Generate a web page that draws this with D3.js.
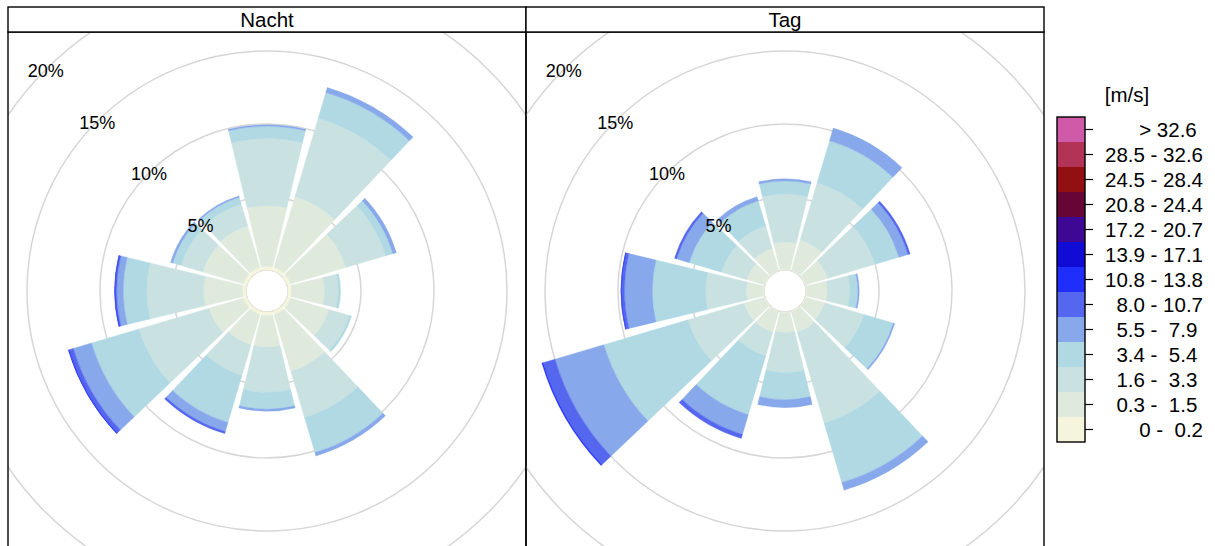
<!DOCTYPE html>
<html>
<head>
<meta charset="utf-8">
<script src="https://cdn.jsdelivr.net/npm/d3@7"></script>
<style>
  body { margin: 0; background: #fff; }
  text { font-family: "Liberation Sans", Arial, sans-serif; fill: #000; }
</style>
</head>
<body>
<svg id="chart" width="1215" height="546"></svg>
<script>
// Wind directions (degrees, clockwise from north), one wedge each
const directions = [0, 30, 60, 90, 120, 150, 180, 210, 240, 270, 300, 330];

// Wind speed classes [m/s] (Beaufort), lowest first
const speedLabels = [
  "      0 -  0.2", "  0.3 -  1.5", "  1.6 -  3.3", "  3.4 -  5.4", "  5.5 -  7.9",
  "  8.0 - 10.7", "10.8 - 13.8", "13.9 - 17.1", "17.2 - 20.7", "20.8 - 24.4",
  "24.5 - 28.4", "28.5 - 32.6", "      > 32.6"
];
const speedColours = [
  "#F5F4DC", "#DFEADD", "#C9E2E1", "#B1D9E3", "#87A8EA",
  "#5567EF", "#1F2EFA", "#110CD5", "#3E0894", "#680537",
  "#921012", "#B23356", "#CF5AA7"
];

const panelNames = ["Nacht", "Tag"];
const gridPercents = [0, 5, 10, 15, 20];
const ringLabelPercents = [5, 10, 15, 20];

// Frequency [%] per speed class (rows, lowest first) and direction (columns)
const nachtFreq = [
  [0.25, 0.25, 0.25, 0.25, 0.25, 0.25, 0.25, 0.25, 0.25, 0.25, 0.25, 0.25],
  [4.15, 5.05, 3.95, 2.25, 2.75, 4.05, 2.15, 2.15, 2.45, 2.65, 2.90, 2.95],
  [4.60, 5.60, 2.85, 0.95, 1.45, 3.30, 3.10, 2.20, 5.00, 3.90, 1.55, 1.55],
  [0.85, 1.85, 0.50, 0.15, 0.15, 2.50, 1.15, 3.35, 3.40, 1.60, 0.60, 0.50],
  [0.10, 0.35, 0.25, 0.00, 0.00, 0.25, 0.15, 0.65, 1.30, 0.45, 0.15, 0.10],
  [0.00, 0.00, 0.00, 0.00, 0.00, 0.00, 0.00, 0.15, 0.30, 0.12, 0.00, 0.00],
  [0.00, 0.00, 0.00, 0.00, 0.00, 0.00, 0.00, 0.00, 0.06, 0.03, 0.00, 0.00]
];
const tagFreq = [
  [0.05, 0.05, 0.05, 0.05, 0.05, 0.05, 0.05, 0.05, 0.05, 0.05, 0.05, 0.05],
  [1.85, 2.15, 1.55, 1.40, 1.35, 1.45, 1.35, 1.45, 1.45, 1.15, 1.25, 1.55],
  [3.30, 4.10, 3.40, 1.55, 2.80, 6.50, 2.75, 1.70, 4.00, 2.80, 1.80, 1.60],
  [0.90, 3.00, 1.70, 0.55, 2.10, 4.25, 1.85, 4.20, 6.00, 3.65, 2.30, 1.80],
  [0.15, 0.90, 0.65, 0.10, 0.10, 0.55, 0.55, 1.40, 3.50, 1.90, 0.90, 0.30],
  [0.00, 0.00, 0.15, 0.00, 0.00, 0.00, 0.00, 0.30, 0.85, 0.22, 0.15, 0.00],
  [0.00, 0.00, 0.00, 0.00, 0.00, 0.00, 0.00, 0.00, 0.08, 0.03, 0.00, 0.00]
];
const panelFreq = [nachtFreq, tagFreq];

const svg = d3.select("#chart");
const W = 1215, H = 546;

// layout
const panelLeft = 8, panelWidth = 518, stripTop = 7, stripHeight = 25;
const panelTop = stripTop + stripHeight;
const cy = panelTop + panelWidth / 2;
const segWidth = 0.9;                 // fraction of the sector covered by a wedge
const sector = 360 / directions.length;

// radial scale: percent -> pixel radius (hole in the middle)
const rScale = d3.scaleLinear().domain([0, 20]).range([21, 313]);
const toRad = d => d * Math.PI / 180;
const arc = d3.arc();

panelNames.forEach((name, i) => {
  const x0 = panelLeft + i * panelWidth;
  const cx = x0 + panelWidth / 2;
  const freq = panelFreq[i];

  const clipId = "clip" + i;
  svg.append("clipPath").attr("id", clipId)
    .append("rect").attr("x", x0).attr("y", panelTop)
    .attr("width", panelWidth).attr("height", H - panelTop + 10);

  const g = svg.append("g").attr("clip-path", `url(#${clipId})`);
  const plot = g.append("g").attr("transform", `translate(${cx},${cy})`);

  // grid rings
  plot.selectAll("circle.grid").data(gridPercents).join("circle")
    .attr("class", "grid")
    .attr("r", d => rScale(d))
    .attr("fill", "none")
    .attr("stroke", "#D6D6D6")
    .attr("stroke-width", 1.5);

  // stacked wedges
  directions.forEach((dir, j) => {
    let cum = 0;
    freq.forEach((row, k) => {
      const v = row[j];
      if (v <= 0) return;
      const path = arc({
        innerRadius: rScale(cum),
        outerRadius: rScale(cum + v),
        startAngle: toRad(dir - segWidth * sector / 2),
        endAngle: toRad(dir + segWidth * sector / 2)
      });
      plot.append("path")
        .attr("d", path)
        .attr("fill", speedColours[k])
        .attr("stroke", speedColours[k])
        .attr("stroke-width", 0.35);
      cum += v;
    });
  });

  // ring labels along the north-west diagonal
  plot.selectAll("text.ring").data(ringLabelPercents).join("text")
    .attr("class", "ring")
    .attr("x", d => -rScale(d) * Math.SQRT1_2)
    .attr("y", d => -rScale(d) * Math.SQRT1_2 + 1.5)
    .attr("text-anchor", "middle")
    .attr("dominant-baseline", "central")
    .style("font-size", "18px")
    .text(d => d + "%");

  // panel frame and strip
  svg.append("rect")
    .attr("x", x0).attr("y", panelTop)
    .attr("width", panelWidth).attr("height", H)
    .attr("fill", "none").attr("stroke", "#000").attr("stroke-width", 1.4);
  svg.append("rect")
    .attr("x", x0).attr("y", stripTop)
    .attr("width", panelWidth).attr("height", stripHeight)
    .attr("fill", "#fff").attr("stroke", "#000").attr("stroke-width", 1.4);
  svg.append("text")
    .attr("x", cx).attr("y", stripTop + 20)
    .attr("text-anchor", "middle")
    .style("font-size", "20.5px")
    .text(name);
});

// colour key
const keyX = 1057, keyW = 28, keyTop = 117, keyBottom = 442;
const keyScale = d3.scaleBand()
  .domain(d3.range(speedLabels.length).reverse())
  .range([keyTop, keyBottom]);
const key = svg.append("g");
key.selectAll("rect.cell").data(d3.range(speedLabels.length)).join("rect")
  .attr("class", "cell")
  .attr("x", keyX).attr("y", d => keyScale(d))
  .attr("width", keyW).attr("height", keyScale.bandwidth())
  .attr("fill", d => speedColours[d]);
key.append("rect")
  .attr("x", keyX).attr("y", keyTop)
  .attr("width", keyW).attr("height", keyBottom - keyTop)
  .attr("fill", "none").attr("stroke", "#000").attr("stroke-width", 1.4);
key.selectAll("line.tick").data(d3.range(speedLabels.length)).join("line")
  .attr("class", "tick")
  .attr("x1", keyX + keyW).attr("x2", keyX + keyW + 8)
  .attr("y1", d => keyScale(d) + keyScale.bandwidth() / 2)
  .attr("y2", d => keyScale(d) + keyScale.bandwidth() / 2)
  .attr("stroke", "#000").attr("stroke-width", 1.2);
key.selectAll("text.lab").data(d3.range(speedLabels.length)).join("text")
  .attr("class", "lab")
  .attr("x", 1105)
  .attr("y", d => keyScale(d) + keyScale.bandwidth() / 2)
  .attr("dominant-baseline", "central")
  .style("font-size", "20.5px")
  .style("white-space", "pre")
  .text(d => speedLabels[d]);
key.append("text")
  .attr("x", 1127).attr("y", 102)
  .attr("text-anchor", "middle")
  .style("font-size", "20.5px")
  .text("[m/s]");
</script>
</body>
</html>
